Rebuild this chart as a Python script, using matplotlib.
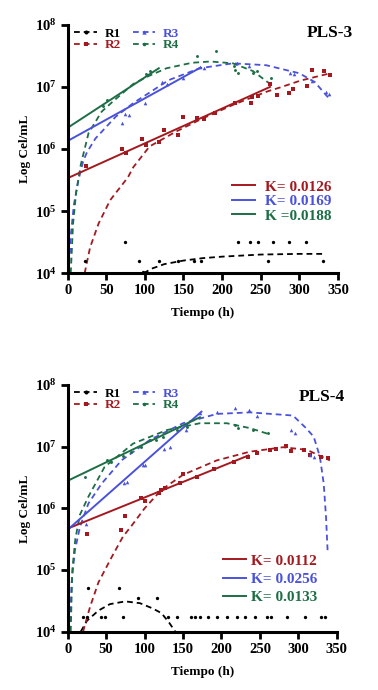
import matplotlib
matplotlib.use('Agg')
import matplotlib.pyplot as plt
from matplotlib.lines import Line2D
from matplotlib.ticker import LogLocator, NullLocator

plt.rcParams['font.family'] = ['Liberation Serif', 'DejaVu Serif']
plt.rcParams['font.weight'] = 'bold'
plt.rcParams['mathtext.fontset'] = 'custom'
plt.rcParams['mathtext.rm'] = 'Liberation Serif:bold'
plt.rcParams['mathtext.bf'] = 'Liberation Serif:bold'
plt.rcParams['mathtext.it'] = 'Liberation Serif:bold:italic'

# colores
c_r1 = 'black'
c_r2 = '#A3191F'
c_r3 = '#4A52DA'
c_r4 = '#1D6E45'

# ---------------- PLS-3 ----------------
p3_r1_t = [22, 74, 93, 98, 118, 143, 163, 173, 220, 236, 246, 260, 266, 286, 309, 331]
p3_r1_y = [1.6e4, 3.2e4, 1.6e4, 1.05e4, 1.6e4, 1.6e4, 1.6e4, 1.6e4, 3.2e4, 3.2e4,
           3.2e4, 1.6e4, 3.2e4, 3.2e4, 3.2e4, 1.6e4]
p3_r1_fit_t = [98, 110, 125, 150, 175, 200, 250, 300, 332]
p3_r1_fit_y = [1.0e4, 1.2e4, 1.4e4, 1.6e4, 1.75e4, 1.85e4, 2.0e4, 2.05e4, 2.05e4]

p3_r2_t = [0, 24, 70, 75, 96, 101, 118, 125, 143, 149, 167, 176, 191, 217, 237, 239,
           247, 262, 271, 286, 292, 310, 317, 332, 340]
p3_r2_y = [5e4, 5.4e5, 1.0e6, 8.5e5, 1.45e6, 1.15e6, 1.3e6, 2.0e6, 1.7e6, 3.3e6, 3.2e6,
           3.0e6, 3.8e6, 5.5e6, 5.6e6, 6.9e6, 7.2e6, 1.1e7, 7.4e6, 8.0e6, 9.1e6, 1.05e7,
           1.85e7, 1.8e7, 1.55e7]
p3_r2_fit_t = [22, 29, 40, 55, 78, 85, 106, 140, 172, 215, 259, 275, 301, 333, 340]
p3_r2_fit_y = [1.0e4, 2.6e4, 6.3e4, 1.5e5, 3.5e5, 5.1e5, 1.1e6, 1.9e6, 3.0e6, 5.2e6,
               8.5e6, 9.8e6, 1.26e7, 1.58e7, 1.66e7]

p3_r3_t = [0, 70, 74, 79, 100, 122, 128, 150, 171, 176, 219, 235, 288, 293, 316, 335, 339]
p3_r3_y = [2.0e5, 2.6e6, 3.6e6, 3.5e6, 5.5e6, 1.2e7, 1.1e7, 1.4e7, 2.1e7, 2.0e7, 2.4e7,
           2.2e7, 1.65e7, 1.6e7, 1.25e7, 8.3e6, 7.6e6]
p3_r3_fit_t = [1.5, 4, 8, 14, 20, 25, 36, 62, 85, 131, 171, 214, 257, 300, 320, 340]
p3_r3_fit_y = [1.0e4, 4.0e4, 1.26e5, 3.2e5, 6.3e5, 8.9e5, 1.48e6, 3.3e6, 5.5e6, 1.29e7,
               2.0e7, 2.4e7, 2.24e7, 1.66e7, 1.2e7, 6.2e6]

p3_r4_t = [46, 51, 102, 106, 167, 192, 215, 217, 221, 240, 245, 263]
p3_r4_y = [4.9e6, 6.2e6, 1.6e7, 1.8e7, 3.1e7, 3.8e7, 2.2e7, 1.9e7, 1.65e7, 1.65e7, 1.8e7, 1.4e7]
p3_r4_fit_t = [4, 7, 11, 17, 27, 44, 57, 85, 105, 128, 161, 185, 214, 240, 262]
p3_r4_fit_y = [1.0e4, 6.3e4, 2.0e5, 5.6e5, 1.8e6, 4.0e6, 5.6e6, 1.12e7, 1.5e7, 2.0e7,
               2.45e7, 2.57e7, 2.4e7, 1.8e7, 1.12e7]

# rectas exponenciales (inicio, fin)
p3_lin_r2_t, p3_lin_r2_y = [0, 262], [3.4e5, 1.0e7]
p3_lin_r3_t, p3_lin_r3_y = [0, 172], [1.35e6, 2.05e7]
p3_lin_r4_t, p3_lin_r4_y = [0, 118], [2.2e6, 2.0e7]
p3_k = ['K= 0.0126', 'K= 0.0169', 'K =0.0188']

# ---------------- PLS-4 ----------------
p4_r1_t = [20, 25, 27, 44, 48, 67, 72, 92, 116, 131, 142, 161, 165, 172, 183, 194, 207,
           220, 231, 244, 259, 265, 285, 309, 330, 335]
p4_r1_y = [1.7e4, 1.7e4, 5.2e4, 1.7e4, 1.7e4, 5.2e4, 1.7e4, 3.5e4, 3.5e4, 1.7e4, 1.7e4,
           1.7e4, 1.7e4, 1.7e4, 1.7e4, 1.7e4, 1.7e4, 1.7e4, 1.7e4, 1.7e4, 1.7e4, 1.7e4,
           1.7e4, 1.7e4, 1.7e4, 1.7e4]
p4_r1_fit_t = [17, 25, 40, 55, 75, 94, 110, 122, 132, 140]
p4_r1_fit_y = [1.0e4, 1.5e4, 2.2e4, 2.8e4, 3.1e4, 2.9e4, 2.4e4, 2.0e4, 1.4e4, 1.0e4]

p4_r2_t = [25, 70, 75, 96, 100, 119, 122, 127, 146, 150, 168, 190, 216, 235, 246, 263,
           271, 284, 291, 307, 315, 330, 339]
p4_r2_y = [3.9e5, 4.5e5, 7.6e5, 1.45e6, 1.3e6, 1.8e6, 2.0e6, 2.1e6, 2.6e6, 3.6e6, 3.2e6,
           4.4e6, 5.6e6, 6.9e6, 7.8e6, 8.9e6, 9.3e6, 1.02e7, 8.5e6, 8.7e6, 7.2e6, 6.8e6, 6.5e6]
p4_r2_fit_t = [20, 29, 40, 57, 72, 83, 100, 122, 150, 194, 237, 280, 311, 341]
p4_r2_fit_y = [1.0e4, 2.5e4, 6.3e4, 1.6e5, 3.5e5, 5.2e5, 1.0e6, 2.0e6, 3.5e6, 6.0e6,
               8.3e6, 9.8e6, 8.9e6, 6.0e6]

p4_r3_t = [24, 73, 77, 98, 101, 125, 133, 154, 172, 194, 218, 236, 246, 291, 296, 315, 320]
p4_r3_y = [5.6e5, 2.6e6, 2.7e6, 5.0e6, 5.0e6, 9.3e6, 1.0e7, 1.86e7, 3.5e7, 3.7e7, 4.2e7,
           3.9e7, 3.2e7, 1.86e7, 1.66e7, 7.2e6, 6.8e6]
p4_r3_fit_t = [3, 5, 9.5, 16, 27, 44, 70, 107, 150, 194, 237, 293, 310, 320, 328, 333, 336, 338]
p4_r3_fit_y = [1.0e4, 6.0e4, 2.1e5, 5.0e5, 1.2e6, 2.5e6, 6.0e6, 1.29e7, 2.4e7, 3.4e7,
               3.6e7, 3.2e7, 2.0e7, 1.45e7, 6.9e6, 2.5e6, 7.2e5, 2.1e5]

p4_r4_t = [22, 51, 57, 72, 83, 95, 107, 115, 124, 142, 155, 218, 222, 241, 261]
p4_r4_y = [3.2e6, 6.0e6, 5.6e6, 7.1e6, 8.3e6, 1.0e7, 1.29e7, 1.26e7, 1.41e7, 1.86e7,
           2.1e7, 2.24e7, 2.0e7, 1.86e7, 1.66e7]
p4_r4_fit_t = [4, 6, 10, 16, 27, 48, 85, 129, 172, 207, 237, 263]
p4_r4_fit_y = [1.0e4, 1.0e5, 3.2e5, 7.9e5, 1.55e6, 4.7e6, 1.12e7, 1.86e7, 2.4e7, 2.4e7,
               2.0e7, 1.58e7]

p4_lin_r2_t, p4_lin_r2_y = [0, 235], [4.7e5, 7.2e6]
p4_lin_r3_t, p4_lin_r3_y = [0, 174], [4.5e5, 3.7e7]
p4_lin_r4_t, p4_lin_r4_y = [0, 172], [2.8e6, 3.0e7]
p4_k = ['K= 0.0112', 'K= 0.0256', 'K= 0.0133']

dash = (0, (3.2, 2.2))
mk = {'R1': 'o', 'R2': 's', 'R3': '^', 'R4': 'o'}
ms = {'R1': 2.4, 'R2': 3.0, 'R3': 2.6, 'R4': 2.1}
cols = {'R1': c_r1, 'R2': c_r2, 'R3': c_r3, 'R4': c_r4}


def panel(ax, pts, fits, lines, klabels, titulo, title_pos, kspace, kanchor, kpad):
    for name in ['R1', 'R2', 'R3', 'R4']:
        ft, fy = fits[name]
        ax.plot(ft, fy, color=cols[name], ls=dash, lw=1.3)
    for name in ['R1', 'R2', 'R3', 'R4']:
        pt, py = pts[name]
        ax.plot(pt, py, ls='none', marker=mk[name], ms=ms[name], color=cols[name],
                markeredgewidth=0)
    for name in ['R2', 'R3', 'R4']:
        lt, ly = lines[name]
        ax.plot(lt, ly, color=cols[name], lw=1.4)

    ax.set_yscale('log')
    ax.set_xlim(0, 350)
    ax.set_ylim(1e4, 1e8)
    ax.set_xticks([0, 50, 100, 150, 200, 250, 300, 350])
    ax.yaxis.set_major_locator(LogLocator(base=10, numticks=10))
    ax.yaxis.set_minor_locator(NullLocator())
    for s in ['top', 'right']:
        ax.spines[s].set_visible(False)
    for s in ['left', 'bottom']:
        ax.spines[s].set_linewidth(2.2)
    ax.tick_params(width=2, length=5, labelsize=10.5, pad=3)
    for lab in ax.get_xticklabels():
        lab.set_fontweight('bold')
    ax.set_xlabel('Tiempo (h)', fontsize=9.5, fontweight='bold', labelpad=7)
    ax.set_ylabel('Log Cel/mL', fontsize=9.5, fontweight='bold', labelpad=3)
    ax.text(title_pos[0], title_pos[1], titulo, transform=ax.transAxes, ha='right',
            va='center', fontsize=12.5, fontweight='bold', clip_on=False)

    # leyenda de replicas
    hs = [Line2D([], [], color=cols[n], ls=dash, lw=1.3, marker=mk[n], ms=ms[n] + 0.5,
                 markeredgewidth=0) for n in ['R1', 'R2', 'R3', 'R4']]
    leg = ax.legend(hs, ['R1', 'R2', 'R3', 'R4'], ncol=2, loc='upper left',
                    bbox_to_anchor=(0.02, 0.995), frameon=False, fontsize=9.5,
                    handlelength=1.7, handletextpad=0.6, columnspacing=0.9,
                    labelspacing=-0.05, borderaxespad=0.0, borderpad=0.1, numpoints=1)
    for t, n in zip(leg.get_texts(), ['R1', 'R2', 'R3', 'R4']):
        t.set_color(cols[n])
        t.set_fontweight('bold')
    ax.add_artist(leg)

    # leyenda de K
    kh = [Line2D([], [], color=cols[n], lw=1.4) for n in ['R2', 'R3', 'R4']]
    leg2 = ax.legend(kh, klabels, loc='center right', bbox_to_anchor=kanchor,
                     frameon=False, fontsize=11, handlelength=1.5, handletextpad=kpad,
                     labelspacing=kspace, borderaxespad=0.0)
    for t, n in zip(leg2.get_texts(), ['R2', 'R3', 'R4']):
        t.set_color(cols[n])
        t.set_fontweight('bold')


fig = plt.figure(figsize=(3.78, 6.9), dpi=100)
ax1 = fig.add_axes([0.179, 0.604, 0.715, 0.360])
ax2 = fig.add_axes([0.179, 0.0845, 0.712, 0.3575])

panel(ax1,
      {'R1': (p3_r1_t, p3_r1_y), 'R2': (p3_r2_t, p3_r2_y),
       'R3': (p3_r3_t, p3_r3_y), 'R4': (p3_r4_t, p3_r4_y)},
      {'R1': (p3_r1_fit_t, p3_r1_fit_y), 'R2': (p3_r2_fit_t, p3_r2_fit_y),
       'R3': (p3_r3_fit_t, p3_r3_fit_y), 'R4': (p3_r4_fit_t, p3_r4_fit_y)},
      {'R2': (p3_lin_r2_t, p3_lin_r2_y), 'R3': (p3_lin_r3_t, p3_lin_r3_y),
       'R4': (p3_lin_r4_t, p3_lin_r4_y)},
      p3_k, 'PLS-3', (1.055, 0.967), 0.05, (1.0, 0.29), 0.7)

panel(ax2,
      {'R1': (p4_r1_t, p4_r1_y), 'R2': (p4_r2_t, p4_r2_y),
       'R3': (p4_r3_t, p4_r3_y), 'R4': (p4_r4_t, p4_r4_y)},
      {'R1': (p4_r1_fit_t, p4_r1_fit_y), 'R2': (p4_r2_fit_t, p4_r2_fit_y),
       'R3': (p4_r3_fit_t, p4_r3_fit_y), 'R4': (p4_r4_fit_t, p4_r4_fit_y)},
      {'R2': (p4_lin_r2_t, p4_lin_r2_y), 'R3': (p4_lin_r3_t, p4_lin_r3_y),
       'R4': (p4_lin_r4_t, p4_lin_r4_y)},
      p4_k, 'PLS-4', (1.03, 0.951), 0.3, (0.95, 0.213), 0.35)

fig.savefig('out.png', dpi=100)
